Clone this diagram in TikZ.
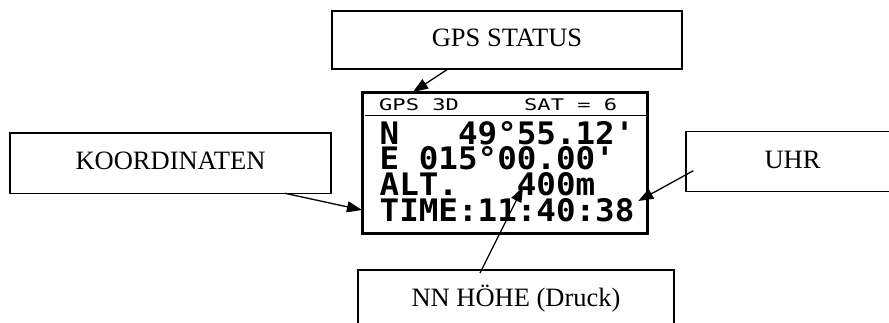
\documentclass[tikz,border=0pt]{standalone}
\usepackage{fontspec}
\setmainfont{Liberation Serif}
\newfontfamily\lcdfont{DejaVu Sans Mono}
\usetikzlibrary{arrows.meta}
\begin{document}
\begin{tikzpicture}[x=1pt,y=-1pt,
  lbl/.style={draw, line width=1.2pt, inner sep=0pt, minimum height=60pt,
    text height=17.5pt, text depth=4pt, font=\fontsize{26.5}{30}\selectfont},
  bigrow/.style={anchor=base west, inner sep=0pt, text height=22.7pt, text depth=0pt,
    font=\lcdfont\bfseries\fontsize{31}{33}\selectfont},
  smallrow/.style={anchor=base west, inner sep=0pt, text height=11.7pt, text depth=0pt,
    font=\lcdfont\fontsize{16}{18}\selectfont},
  conn/.style={line width=1.3pt, -{Triangle[length=15pt,width=11pt]}}]
\useasboundingbox (0,0) rectangle (889,322);
\clip (0,0) rectangle (889,322);

% label boxes
\node[lbl, minimum width=350pt, minimum height=58pt] (gps) at (507,40) {GPS STATUS};
\node[lbl, minimum width=321pt, minimum height=60.3pt] (koord) at (170.5,163.2) {KOORDINATEN};
\node[lbl, minimum width=213pt] (uhr) at (792.5,161.7) {UHR};
\node[lbl, minimum width=316pt] (nn) at (516,300) {NN HÖHE (Druck)};

% display
\node[draw, line width=3.3pt, minimum width=284.6pt, minimum height=141pt, inner sep=0pt] (disp) at (505,163.2) {};
\draw[line width=1pt] (364.5,115.7) -- (645.6,115.7);
\node[smallrow] (hdrL) at (379,110) {\scalebox{1.38}[1]{GPS 3D}};
\node[smallrow] (hdrR) at (524,110) {\scalebox{1.38}[1]{SAT = 6}};
\node[bigrow] (r1) at (379.5,144.3) {\scalebox{1.05}[1]{N~~~49°55.12'}};
\node[bigrow] (r2) at (379.5,169) {\scalebox{1.05}[1]{E~015°00.00'}};
\node[bigrow] (r3) at (379.5,195) {\scalebox{1.05}[1]{ALT.~~~400m}};
\node[bigrow] (r4) at (379.5,221) {\scalebox{1.05}[1]{TIME:11:40:38}};

% connectors
\coordinate (gpsS) at (448,69);
\coordinate (gpsT) at (413,92);
\coordinate (koS) at (285,193.3);
\coordinate (koT) at (362,210);
\coordinate (uhS) at (693.3,170.7);
\coordinate (uhT) at (638.3,201);
\coordinate (nnS) at (480,273);
\coordinate (nnT) at (523,187);
\draw[conn] (gpsS) -- (gpsT);
\draw[conn] (koS) -- (koT);
\draw[conn] (uhS) -- (uhT);
\draw[conn] (nnS) -- (nnT);
\end{tikzpicture}
\end{document}
